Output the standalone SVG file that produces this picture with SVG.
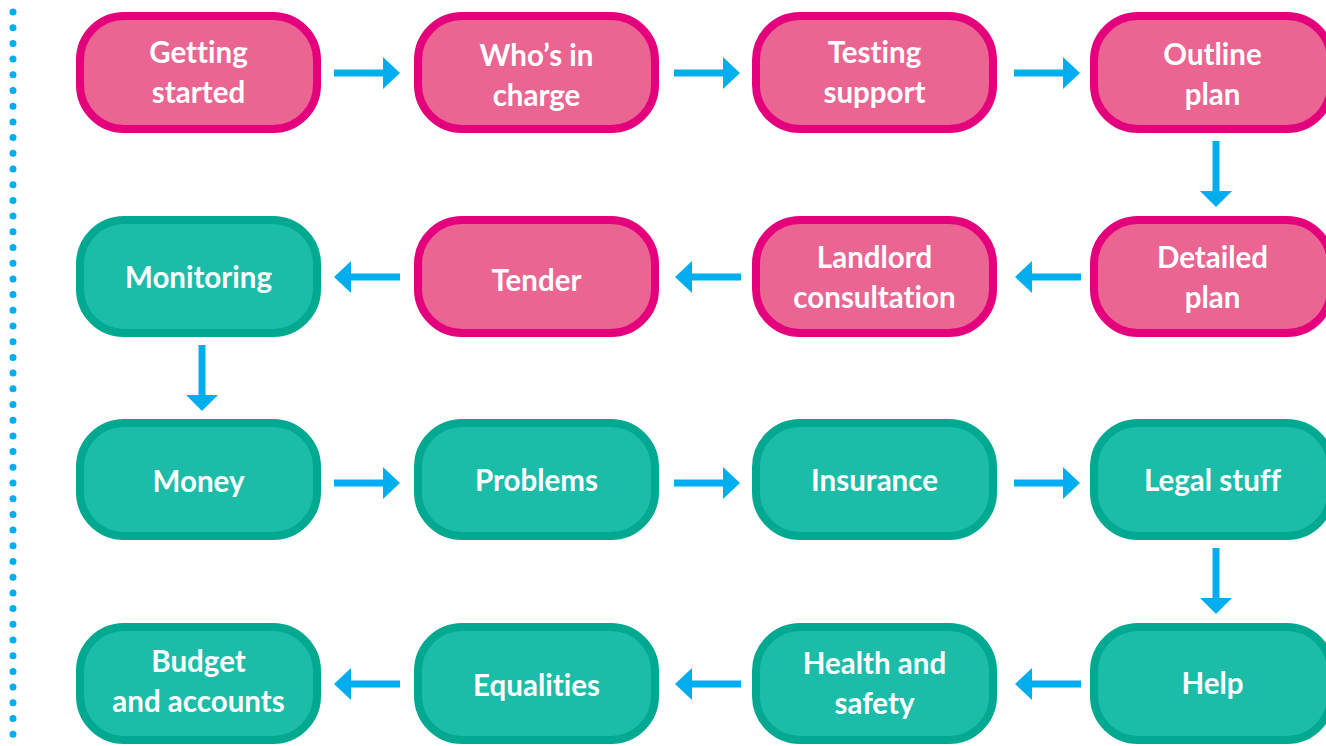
<svg xmlns="http://www.w3.org/2000/svg" width="1326" height="746" viewBox="0 0 1326 746">
  <style>
    .pink rect { fill: #EA6591; stroke: #E4007C; stroke-width: 8; }
    .teal rect { fill: #1CBDA8; stroke: #00A98F; stroke-width: 8; }
    text { font-family: Lato, "Open Sans", sans-serif; font-weight: 700; font-size: 29.5px; fill: #FFFFFF; text-anchor: middle; font-variant-ligatures: none; font-feature-settings: "liga" 0; }
    .arrow line { stroke: #00AEEF; stroke-width: 7; }
    .arrow polygon { fill: #00AEEF; }
  </style>
  <defs>
    <!-- arrow pointing right, tip at origin -->
    <g id="arrowR" class="arrow">
      <line x1="-66" y1="0" x2="-14" y2="0"/>
      <polygon points="0,0 -17,-16 -17,16"/>
    </g>
    <g id="arrowL" class="arrow">
      <line x1="66" y1="0" x2="14" y2="0"/>
      <polygon points="0,0 17,-16 17,16"/>
    </g>
    <g id="arrowD" class="arrow">
      <line x1="0" y1="-66" x2="0" y2="-14"/>
      <polygon points="0,0 -16,-16 16,-16"/>
    </g>
  </defs>

  <!-- dotted margin line -->
  <line x1="13" y1="12" x2="13" y2="746" stroke="#00AEEF" stroke-width="7" stroke-linecap="round" stroke-dasharray="0 15.7"/>

  <!-- row 1 -->
  <g id="getting-started" class="pink">
    <rect x="80" y="16" width="237" height="113" rx="44"/>
    <text x="198.5" y="63">Getting</text>
    <text x="198.5" y="103">started</text>
  </g>
  <g id="whos-in-charge" class="pink">
    <rect x="418" y="16" width="237" height="113" rx="44"/>
    <text x="536.5" y="66">Who’s in</text>
    <text x="536.5" y="106">charge</text>
  </g>
  <g id="testing-support" class="pink">
    <rect x="756" y="16" width="237" height="113" rx="44"/>
    <text x="874.5" y="63">Testing</text>
    <text x="874.5" y="103">support</text>
  </g>
  <g id="outline-plan" class="pink">
    <rect x="1094" y="16" width="237" height="113" rx="44"/>
    <text x="1212.5" y="65">Outline</text>
    <text x="1212.5" y="105">plan</text>
  </g>

  <!-- row 2 -->
  <g id="monitoring" class="teal">
    <rect x="80" y="220" width="237" height="113" rx="44"/>
    <text x="198.5" y="288">Monitoring</text>
  </g>
  <g id="tender" class="pink">
    <rect x="418" y="220" width="237" height="113" rx="44"/>
    <text x="536.5" y="291">Tender</text>
  </g>
  <g id="landlord-consultation" class="pink">
    <rect x="756" y="220" width="237" height="113" rx="44"/>
    <text x="874.5" y="268">Landlord</text>
    <text x="874.5" y="308">consultation</text>
  </g>
  <g id="detailed-plan" class="pink">
    <rect x="1094" y="220" width="237" height="113" rx="44"/>
    <text x="1212.5" y="268">Detailed</text>
    <text x="1212.5" y="308">plan</text>
  </g>

  <!-- row 3 -->
  <g id="money" class="teal">
    <rect x="80" y="423" width="237" height="113" rx="44"/>
    <text x="198.5" y="492">Money</text>
  </g>
  <g id="problems" class="teal">
    <rect x="418" y="423" width="237" height="113" rx="44"/>
    <text x="536.5" y="491">Problems</text>
  </g>
  <g id="insurance" class="teal">
    <rect x="756" y="423" width="237" height="113" rx="44"/>
    <text x="874.5" y="491">Insurance</text>
  </g>
  <g id="legal-stuff" class="teal">
    <rect x="1094" y="423" width="237" height="113" rx="44"/>
    <text x="1212.5" y="491">Legal stuff</text>
  </g>

  <!-- row 4 -->
  <g id="budget-and-accounts" class="teal">
    <rect x="80" y="627" width="237" height="113" rx="44"/>
    <text x="198.5" y="672">Budget</text>
    <text x="198.5" y="712">and accounts</text>
  </g>
  <g id="equalities" class="teal">
    <rect x="418" y="627" width="237" height="113" rx="44"/>
    <text x="536.5" y="696">Equalities</text>
  </g>
  <g id="health-and-safety" class="teal">
    <rect x="756" y="627" width="237" height="113" rx="44"/>
    <text x="874.5" y="674">Health and</text>
    <text x="874.5" y="714">safety</text>
  </g>
  <g id="help" class="teal">
    <rect x="1094" y="627" width="237" height="113" rx="44"/>
    <text x="1212.5" y="694">Help</text>
  </g>

  <!-- connectors -->
  <g id="connectors">
    <use href="#arrowR" x="400" y="73"/>
    <use href="#arrowR" x="740" y="73"/>
    <use href="#arrowR" x="1080" y="73"/>
    <use href="#arrowD" x="1216" y="207"/>
    <use href="#arrowL" x="1015" y="277"/>
    <use href="#arrowL" x="675" y="277"/>
    <use href="#arrowL" x="334" y="277"/>
    <use href="#arrowD" x="202" y="411"/>
    <use href="#arrowR" x="400" y="483"/>
    <use href="#arrowR" x="740" y="483"/>
    <use href="#arrowR" x="1080" y="483"/>
    <use href="#arrowD" x="1216" y="614"/>
    <use href="#arrowL" x="1015" y="684"/>
    <use href="#arrowL" x="675" y="684"/>
    <use href="#arrowL" x="334" y="684"/>
  </g>
</svg>
